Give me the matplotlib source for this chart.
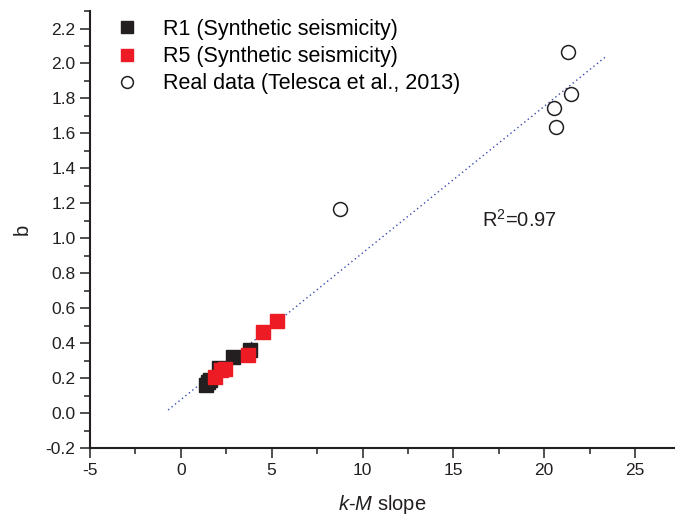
import matplotlib
matplotlib.use("Agg")
import matplotlib.pyplot as plt
import numpy as np
from matplotlib.ticker import MultipleLocator

plt.rcParams['font.family'] = ['Liberation Sans', 'DejaVu Sans']
plt.rcParams['mathtext.fontset'] = 'custom'
plt.rcParams['mathtext.rm'] = 'Liberation Sans'
plt.rcParams['mathtext.it'] = 'Liberation Sans:italic'
plt.rcParams['axes.unicode_minus'] = False

# Data
r1_x = [1.37, 1.50, 1.60, 2.10, 2.87, 3.79]
r1_y = [0.163, 0.175, 0.190, 0.260, 0.320, 0.362]
r5_x = [1.87, 2.20, 2.42, 3.72, 4.52, 5.29]
r5_y = [0.207, 0.245, 0.254, 0.333, 0.462, 0.524]
real_x = [8.74, 20.55, 20.65, 21.30, 21.50]
real_y = [1.165, 1.745, 1.635, 2.065, 1.825]
fit_slope = 0.0839
fit_intercept = 0.0766
fit_x_range = [-0.7, 23.4]
r2_label = "R$^2$=0.97"

fig = plt.figure(figsize=(6.75, 5.15), dpi=100)
ax = fig.add_axes([0.1333, 0.130, 0.8667, 0.8486])

fx = np.array(fit_x_range)
ax.plot(fx, fit_slope * fx + fit_intercept, linestyle=(0, (1, 2.2)),
        color='#3a4bb0', lw=1.0, zorder=1)

ax.plot(r1_x, r1_y, 's', color='#231f20', markersize=10, ls='none',
        label='R1 (Synthetic seismicity)', zorder=2)
ax.plot(r5_x, r5_y, 's', color='#ed1c24', markersize=10, ls='none',
        label='R5 (Synthetic seismicity)', zorder=3)
ax.plot(real_x, real_y, 'o', mfc='white', mec='#231f20', mew=1.1,
        markersize=10, ls='none', label='Real data (Telesca et al., 2013)', zorder=4)

ax.text(16.6, 1.108, r2_label, fontsize=14.5, ha='left', va='center', color='#231f20')

ax.set_xlim(-5, 27.2)
ax.set_ylim(-0.2, 2.3)
ax.xaxis.set_major_locator(MultipleLocator(5))
ax.xaxis.set_minor_locator(MultipleLocator(2.5))
ax.yaxis.set_major_locator(MultipleLocator(0.2))
ax.yaxis.set_minor_locator(MultipleLocator(0.1))
ax.yaxis.set_major_formatter(matplotlib.ticker.FormatStrFormatter('%.1f'))

for s in ['top', 'right']:
    ax.spines[s].set_visible(False)
for s in ['left', 'bottom']:
    ax.spines[s].set_linewidth(1.5)
    ax.spines[s].set_color('#231f20')

ax.tick_params(which='major', direction='out', length=7.5, width=1.1,
               color='#231f20', labelsize=12.5, labelcolor='#231f20', pad=3)
ax.tick_params(which='minor', direction='out', length=4, width=1.1, color='#231f20')

ax.set_xlabel(r'$\mathit{k}$-$\mathit{M}$ slope', fontsize=14.5, color='#231f20', labelpad=11)
ax.set_ylabel('b', fontsize=14.5, color='#231f20', labelpad=10)

leg = ax.legend(loc='upper left', bbox_to_anchor=(0.003, 1.026), frameon=False,
                fontsize=15.5, markerscale=0.85, handletextpad=0.93,
                labelspacing=0.28, handlelength=1.5)

fig.savefig('out.png', dpi=100)
